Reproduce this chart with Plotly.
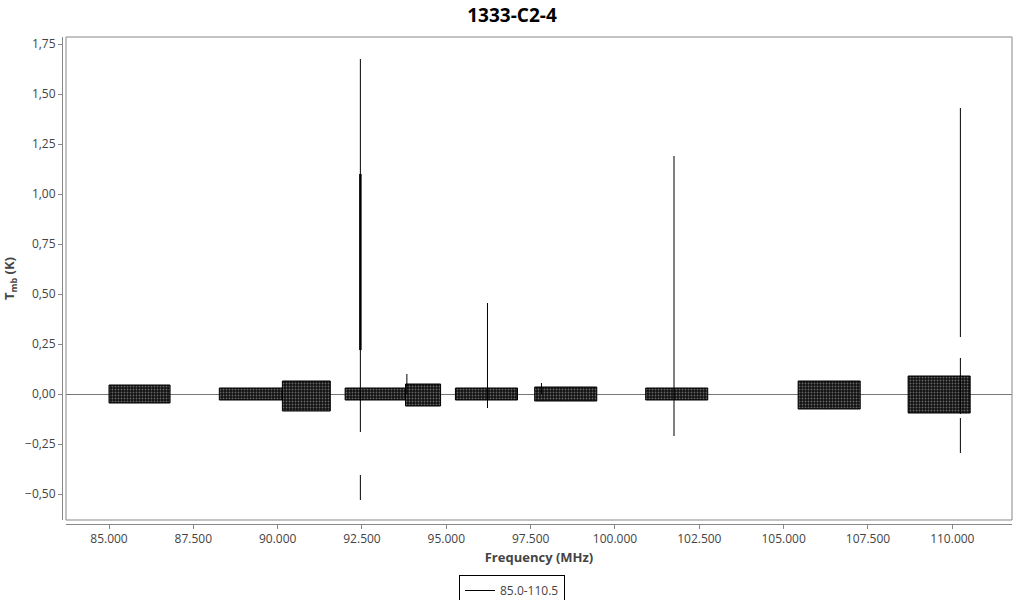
import plotly.graph_objects as go

# Noise segments of the spectrum (MHz) and their envelope (K)
seg_start = [85000, 88270, 90140, 92000, 93790, 95270, 97620, 100910, 105430, 108690]
seg_end   = [86810, 90140, 91560, 93790, 94830, 97110, 99460, 102750, 107270, 110530]
seg_upper = [0.045, 0.030, 0.065, 0.030, 0.050, 0.030, 0.035, 0.030, 0.065, 0.090]
seg_lower = [-0.045, -0.030, -0.085, -0.030, -0.060, -0.030, -0.035, -0.030, -0.075, -0.095]

# Emission / absorption spikes (MHz, K)
spike_freq   = [92452, 92452, 93830, 96220, 97820, 101750, 110240, 110240, 110240]
spike_top    = [1.675, -0.405, 0.100, 0.455, 0.055, 1.190, 1.430, 0.180, -0.120]
spike_bottom = [-0.190, -0.530, 0.000, -0.070, 0.000, -0.210, 0.285, -0.100, -0.295]

# Broad (thick) part of the 92.45 GHz line
thick_freq = [92452]
thick_top = [1.100]
thick_bottom = [0.220]

x_ticks = [85000, 87500, 90000, 92500, 95000, 97500, 100000, 102500, 105000, 107500, 110000]
y_ticks = [-0.50, -0.25, 0.00, 0.25, 0.50, 0.75, 1.00, 1.25, 1.50, 1.75]

fig = go.Figure()

# noise bands
bx, by = [], []
for s, e, u, l in zip(seg_start, seg_end, seg_upper, seg_lower):
    bx += [s, e, e, s, s, None]
    by += [u, u, l, l, u, None]
fig.add_trace(go.Scatter(x=bx, y=by, mode="lines", fill="toself",
                         fillcolor="#111",
                         fillpattern=dict(shape=".", bgcolor="#111", fgcolor="#bbb",
                                          size=3, solidity=0.3),
                         line=dict(color="black", width=1),
                         showlegend=False, hoverinfo="skip"))

# spikes
sx, sy = [], []
for f, t, b in zip(spike_freq, spike_top, spike_bottom):
    sx += [f, f, None]
    sy += [t, b, None]
fig.add_trace(go.Scatter(x=sx, y=sy, mode="lines", name="85.0-110.5",
                         line=dict(color="black", width=1)))

tx, ty = [], []
for f, t, b in zip(thick_freq, thick_top, thick_bottom):
    tx += [f, f, None]
    ty += [t, b, None]
fig.add_trace(go.Scatter(x=tx, y=ty, mode="lines", showlegend=False,
                         line=dict(color="black", width=2.5)))

W, H = 1024, 600
ml, mr, mt, mb = 62, 12, 37, 76
pw = W - ml - mr
ph = H - mt - mb

fig.update_layout(
    width=W, height=H,
    margin=dict(l=ml, r=mr, t=mt, b=mb, autoexpand=False),
    paper_bgcolor="white", plot_bgcolor="white",
    separators=",.",
    font=dict(family="Open Sans", size=12, color="#444"),
    title=dict(text="<b>1333-C2-4</b>", x=0.5, xref="container", xanchor="center",
               y=1 - 15 / H, yref="container", yanchor="middle",
               font=dict(family="Open Sans", size=19, color="black")),
    xaxis=dict(domain=[4 / pw, 1], anchor="free", position=0, automargin=False,
               range=[83725, 111770], tickvals=x_ticks, tickformat=",d",
               showgrid=False, zeroline=False,
               showline=True, linecolor="#888", linewidth=1,
               ticks="outside", ticklen=4, tickcolor="#888",
               title=dict(text="<b>Frequency (MHz)</b>", standoff=6,
                          font=dict(family="Open Sans", size=13, color="#444"))),
    yaxis=dict(domain=[4 / ph, 1], anchor="free", position=0, automargin=False,
               range=[-0.63, 1.785], tickvals=y_ticks, tickformat=".2f",
               showgrid=False, zeroline=True, zerolinecolor="#777", zerolinewidth=1,
               showline=True, linecolor="#888", linewidth=1,
               ticks="outside", ticklen=4, tickcolor="#888",
               title=dict(text="<b>T<sub>mb</sub> (K)</b>", standoff=6,
                          font=dict(family="Open Sans", size=13, color="#444"))),
    legend=dict(orientation="h", xref="container", x=0.5, xanchor="center",
                yref="container", y=1 - 575 / H, yanchor="top",
                bordercolor="black", borderwidth=1, bgcolor="white",
                font=dict(family="Open Sans", size=12, color="#444"),
                itemwidth=30),
    shapes=[dict(type="rect", xref="x domain", yref="y domain",
                 x0=0, x1=1, y0=0, y1=1, line=dict(color="#888", width=1),
                 layer="above")],
)

fig.write_html("out.html",
               config={"displayModeBar": False},
               post_script="document.body.style.margin='0px';")
